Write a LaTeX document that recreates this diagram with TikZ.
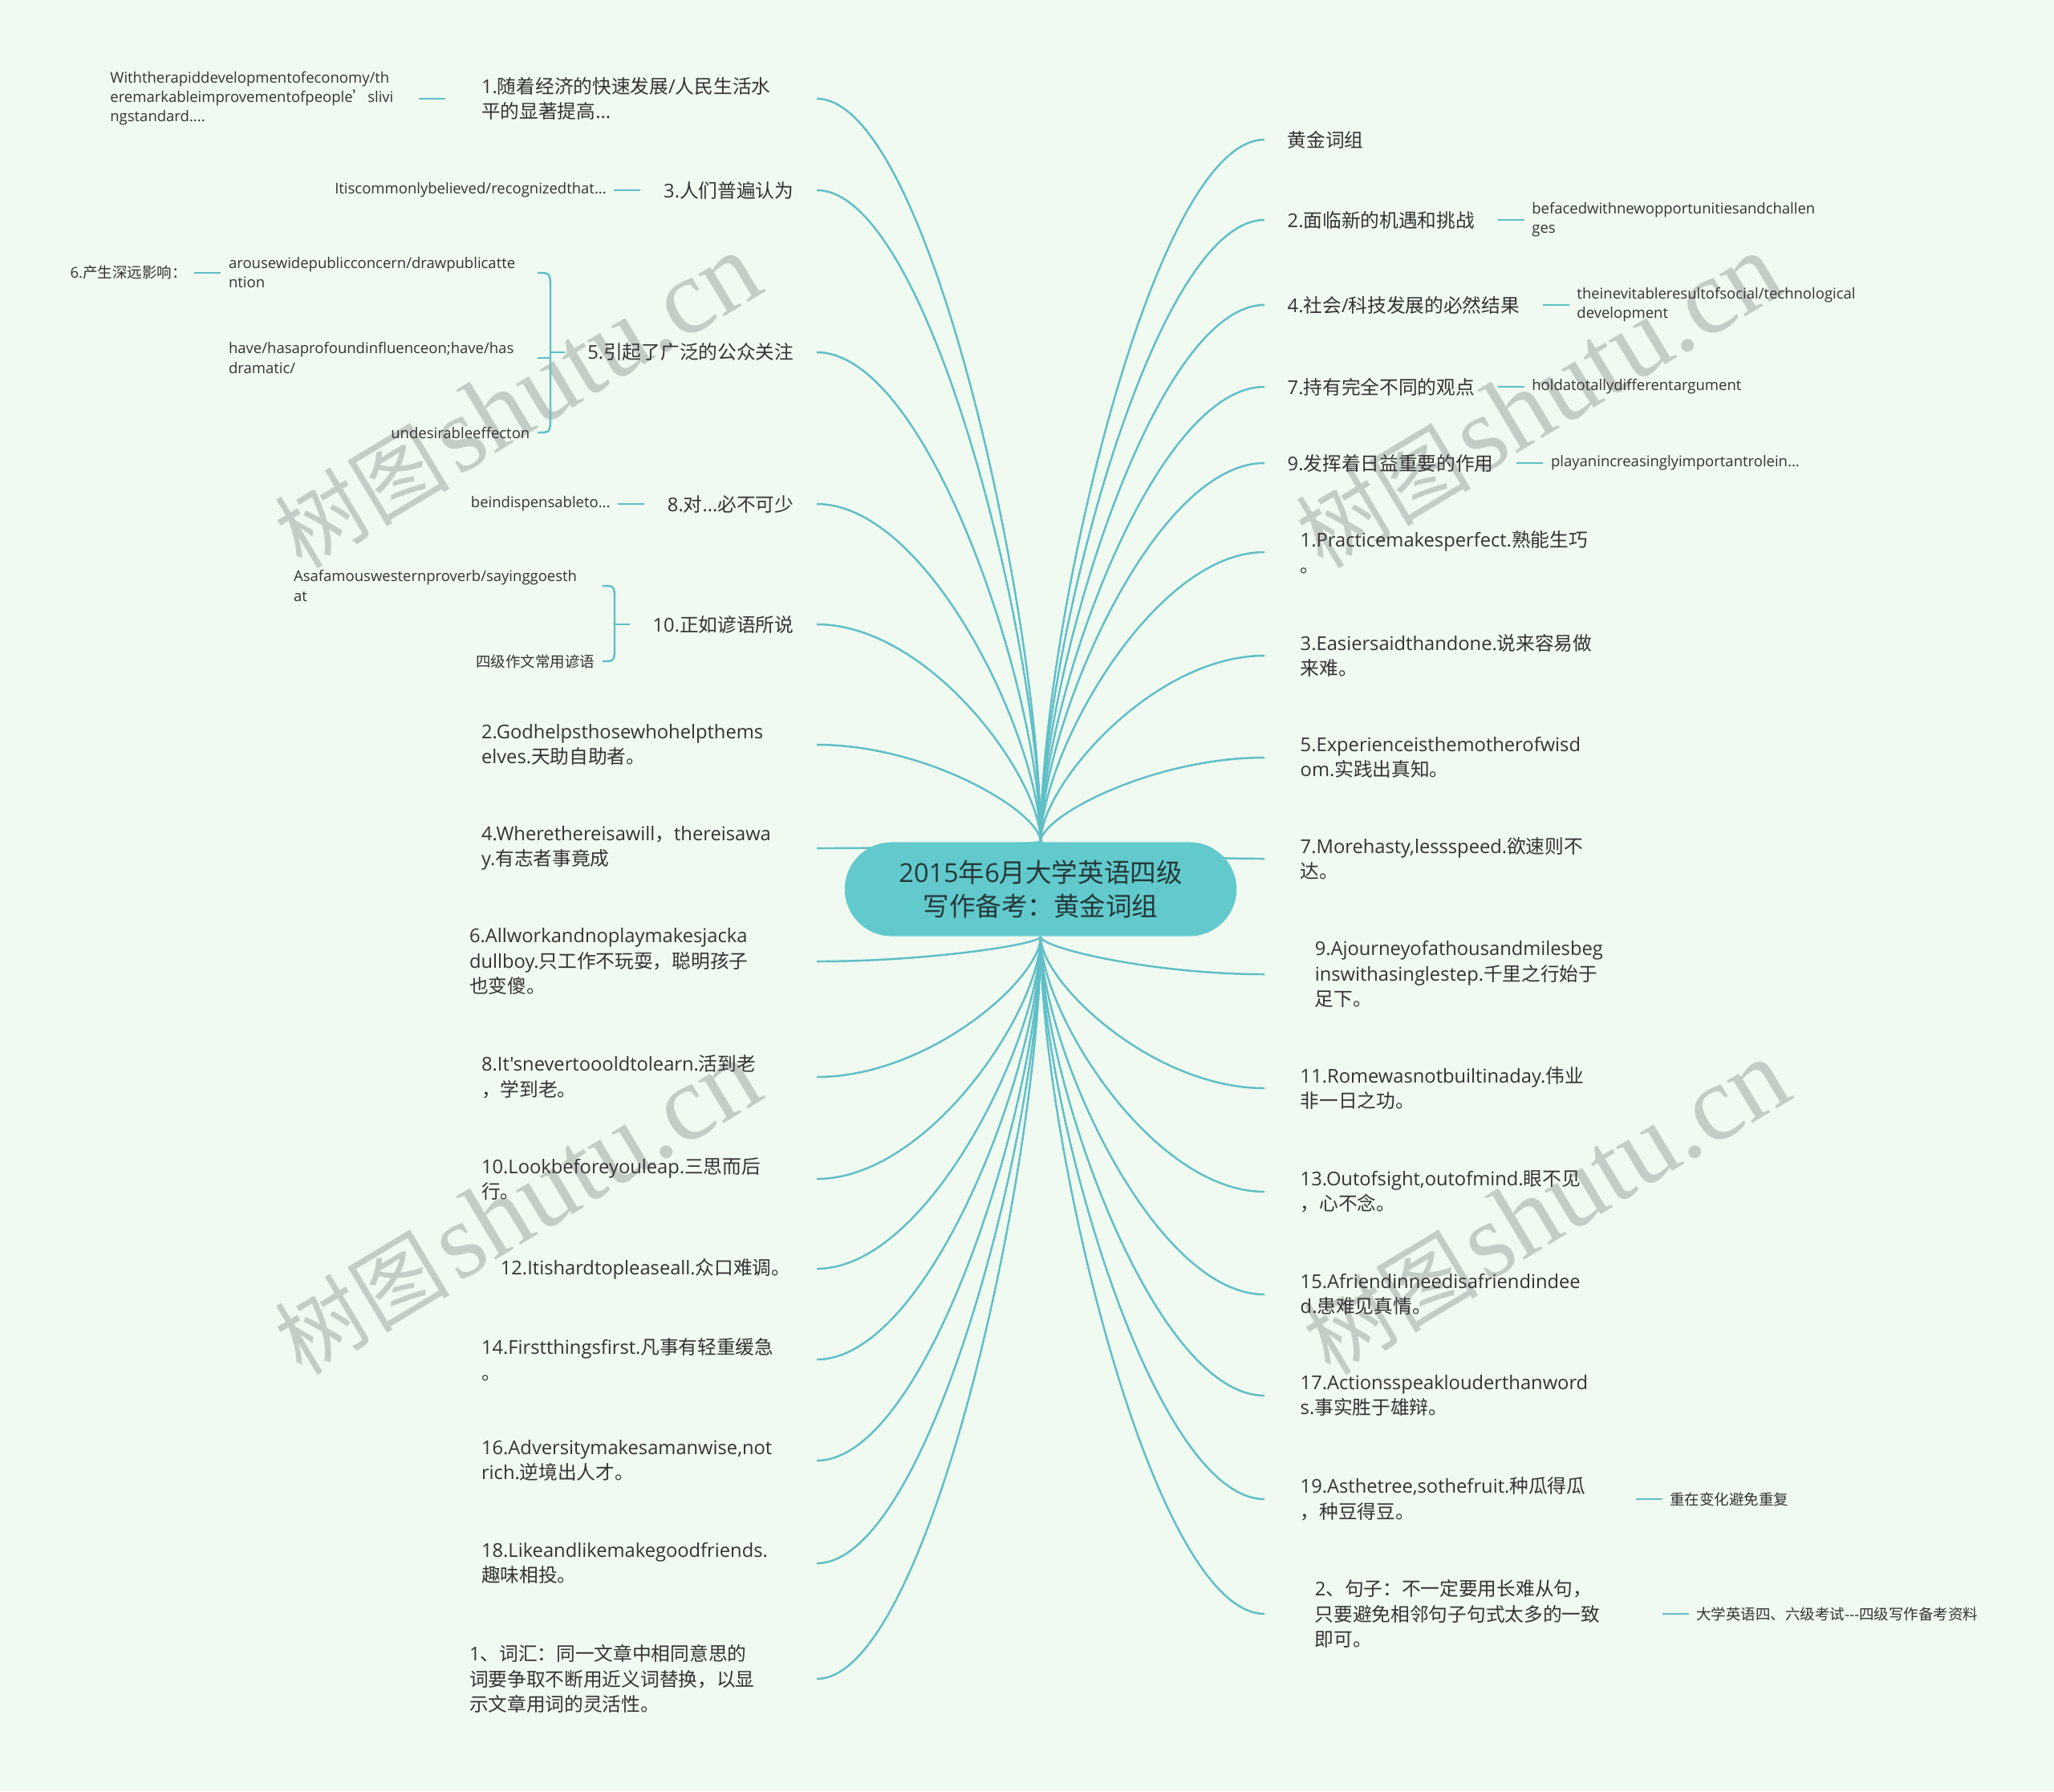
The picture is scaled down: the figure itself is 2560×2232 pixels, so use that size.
\documentclass[tikz,border=0pt]{standalone}
\usepackage{fontspec}
\usepackage{tikz}
\usetikzlibrary{positioning,calc,backgrounds}
\newfontfamily\latfont{Open Sans}
\newfontfamily\cjkfont{Noto Sans CJK SC}
\newfontfamily\wmfont{Liberation Serif}
% CJK characters switch to the CJK family
\XeTeXinterchartokenstate=1
\newXeTeXintercharclass\cjkcls
\newcount\cjkcode
\cjkcode="3000
\loop\XeTeXcharclass\cjkcode=\cjkcls \advance\cjkcode by 1 \ifnum\cjkcode<"3040 \repeat
\cjkcode="4E00
\loop\XeTeXcharclass\cjkcode=\cjkcls \advance\cjkcode by 1 \ifnum\cjkcode<"A000 \repeat
\cjkcode="FF00
\loop\XeTeXcharclass\cjkcode=\cjkcls \advance\cjkcode by 1 \ifnum\cjkcode<"FFF0 \repeat
\XeTeXcharclass"2019=\cjkcls
\XeTeXinterchartoks 0 \cjkcls = {\begingroup\cjkfont}
\XeTeXinterchartoks 4095 \cjkcls = {\begingroup\cjkfont}
\XeTeXinterchartoks \cjkcls 0 = {\endgroup}
\XeTeXinterchartoks \cjkcls 4095 = {\endgroup}
\definecolor{bgc}{RGB}{240,250,240}
\definecolor{linec}{RGB}{96,190,199}
\definecolor{hubc}{RGB}{98,201,204}
\definecolor{txtc}{RGB}{51,51,51}
\definecolor{hubtxt}{RGB}{36,56,56}
\definecolor{wmc}{RGB}{196,204,198}
\newcommand\leafsize{\latfont\fontsize{6.74pt}{8.96pt}\selectfont}
\newcommand\subsize{\latfont\fontsize{5.26pt}{6.83pt}\selectfont}
\newcommand\hubsize{\latfont\fontsize{9.25pt}{11.95pt}\selectfont}
\newcommand\wmtext{{\cjkfont\fontsize{31pt}{31pt}\selectfont 树图}\hspace{0.25em}{\wmfont\fontsize{38pt}{38pt}\selectfont shutu.cn}}

\begin{document}
\begin{tikzpicture}[x=0.01cm,y=-0.01cm,node distance=0.33cm,
  link/.style={draw=linec,line width=0.7pt},
  branch/.style={to path={.. controls ($(\tikztostart)!0.3!(\tikztostart|-\tikztotarget)$)
    and ($(\tikztotarget)!0.5!(\tikztostart|-\tikztotarget)$) .. (\tikztotarget)}},
  hub/.style={fill=hubc,text=hubtxt,font=\hubsize,align=center,
    rounded corners=0.585cm,minimum width=4.88cm,minimum height=1.17cm},
  leaf/.style={text=txtc,font=\leafsize,align=left,inner ysep=0.05cm},
  lone/.style={leaf,inner xsep=0.28cm},
  ltwo/.style={leaf,inner xsep=0.44cm,text width=3.73cm},
  lthree/.style={leaf,inner xsep=0.62cm,text width=3.70cm},
  sub/.style={text=txtc,font=\subsize,align=left,inner xsep=0.09cm,inner ysep=0.04cm},
  subw/.style={sub,text width=3.75cm},
  wmark/.style={text=wmc,rotate=31,inner sep=0pt}]
  \useasboundingbox (0,0) rectangle (2560,2232);
  \node[hub] (hub) at (1297,1108) {2015年6月大学英语四级\\写作备考：黄金词组};

  \node[ltwo,anchor=east] (l1) at (1018,123) {1.随着经济的快速发展/人民生活水\\平的显著提高...};
  \node[lone,anchor=east] (l2) at (1018,237) {3.人们普遍认为};
  \node[lone,anchor=east] (l3) at (1018,439) {5.引起了广泛的公众关注};
  \node[lone,anchor=east] (l4) at (1018,628) {8.对...必不可少};
  \node[lone,anchor=east] (l5) at (1018,778) {10.正如谚语所说};
  \node[ltwo,anchor=east] (l6) at (1018,928) {2.Godhelpsthosewhohelpthems\\elves.天助自助者。};
  \node[ltwo,anchor=east] (l7) at (1018,1057) {4.Wherethereisawill，thereisawa\\y.有志者事竟成};
  \node[lthree,anchor=east] (l8) at (1018,1198) {6.Allworkandnoplaymakesjacka\\dullboy.只工作不玩耍，聪明孩子\\也变傻。};
  \node[ltwo,anchor=east] (l9) at (1018,1342) {8.It'snevertoooldtolearn.活到老\\，学到老。};
  \node[ltwo,anchor=east] (l10) at (1018,1469) {10.Lookbeforeyouleap.三思而后\\行。};
  \node[lone,anchor=east,inner xsep=0.32cm] (l11) at (1018,1581) {12.Itishardtopleaseall.众口难调。};
  \node[ltwo,anchor=east] (l12) at (1018,1694) {14.Firstthingsfirst.凡事有轻重缓急\\。};
  \node[ltwo,anchor=east] (l13) at (1018,1820) {16.Adversitymakesamanwise,not\\rich.逆境出人才。};
  \node[ltwo,anchor=east] (l14) at (1018,1948) {18.Likeandlikemakegoodfriends.\\趣味相投。};
  \node[lthree,anchor=east] (l15) at (1018,2092) {1、词汇：同一文章中相同意思的\\词要争取不断用近义词替换，以显\\示文章用词的灵活性。};

  \node[lone,anchor=west] (r1) at (1576,174) {黄金词组};
  \node[lone,anchor=west] (r2) at (1576,274) {2.面临新的机遇和挑战};
  \node[lone,anchor=west] (r3) at (1576,380) {4.社会/科技发展的必然结果};
  \node[lone,anchor=west] (r4) at (1576,482) {7.持有完全不同的观点};
  \node[lone,anchor=west] (r5) at (1576,577) {9.发挥着日益重要的作用};
  \node[ltwo,anchor=west] (r6) at (1576,688) {1.Practicemakesperfect.熟能生巧\\。};
  \node[ltwo,anchor=west] (r7) at (1576,817) {3.Easiersaidthandone.说来容易做\\来难。};
  \node[ltwo,anchor=west] (r8) at (1576,944) {5.Experienceisthemotherofwisd\\om.实践出真知。};
  \node[ltwo,anchor=west] (r9) at (1576,1070) {7.Morehasty,lessspeed.欲速则不\\达。};
  \node[lthree,anchor=west] (r10) at (1576,1214) {9.Ajourneyofathousandmilesbeg\\inswithasinglestep.千里之行始于\\足下。};
  \node[ltwo,anchor=west] (r11) at (1576,1356) {11.Romewasnotbuiltinaday.伟业\\非一日之功。};
  \node[ltwo,anchor=west] (r12) at (1576,1485) {13.Outofsight,outofmind.眼不见\\，心不念。};
  \node[ltwo,anchor=west] (r13) at (1576,1613) {15.Afriendinneedisafriendindee\\d.患难见真情。};
  \node[ltwo,anchor=west] (r14) at (1576,1739) {17.Actionsspeaklouderthanword\\s.事实胜于雄辩。};
  \node[ltwo,anchor=west] (r15) at (1576,1868) {19.Asthetree,sothefruit.种瓜得瓜\\，种豆得豆。};
  \node[lthree,anchor=west] (r16) at (1576,2011) {2、句子：不一定要用长难从句，\\只要避免相邻句子句式太多的一致\\即可。};

  \node[subw,left=of l1] (l1a) {Withtherapiddevelopmentofeconomy/th\\eremarkableimprovementofpeople’slivi\\ngstandard....};
  \node[sub,left=of l2] (l2a) {Itiscommonlybelieved/recognizedthat...};
  \node[subw,anchor=east] (l3a) at (670,340) {arousewidepublicconcern/drawpublicatte\\ntion};
  \node[subw,anchor=east] (l3b) at (670,446) {have/hasaprofoundinfluenceon;have/has\\dramatic/};
  \node[sub,anchor=east] (l3c) at (670,539) {undesirableeffecton};
  \node[sub,left=of l3a] (l3d) {6.产生深远影响：};
  \node[sub,left=of l4] (l4a) {beindispensableto...};
  \node[subw,anchor=east] (l5a) at (751,730) {Asafamouswesternproverb/sayinggoesth\\at};
  \node[sub,anchor=east] (l5b) at (751,824) {四级作文常用谚语};

  \node[subw,right=of r2] (r2a) {befacedwithnewopportunitiesandchallen\\ges};
  \node[subw,right=of r3] (r3a) {theinevitableresultofsocial/technological\\development};
  \node[sub,right=of r4] (r4a) {holdatotallydifferentargument};
  \node[sub,right=of r5] (r5a) {playanincreasinglyimportantrolein...};
  \node[sub,right=of r15] (r15a) {重在变化避免重复};
  \node[sub,right=of r16] (r16a) {大学英语四、六级考试---四级写作备考资料};

  \draw[link] (l1) -- (l1a);
  \draw[link] (l2) -- (l2a);
  \draw[link] (l4) -- (l4a);
  \draw[link] (l3a) -- (l3d);
  \coordinate (s3) at (686,439);
  \draw[link] (l3.west) -- (s3);
  \draw[link] (l3a.east) .. controls (l3a.east -| s3) .. ($(l3a.east -| s3)+(0,22)$)
    -- ($(l3c.east -| s3)+(0,-22)$) .. controls (l3c.east -| s3) .. (l3c.east);
  \draw[link] (l3b.east) -- (l3b.east -| s3);
  \coordinate (s5) at (766,778);
  \draw[link] (l5.west) -- (s5);
  \draw[link] (l5a.east) .. controls (l5a.east -| s5) .. ($(l5a.east -| s5)+(0,20)$)
    -- ($(l5b.east -| s5)+(0,-20)$) .. controls (l5b.east -| s5) .. (l5b.east);
  \draw[link] (r2) -- (r2a);
  \draw[link] (r3) -- (r3a);
  \draw[link] (r4) -- (r4a);
  \draw[link] (r5) -- (r5a);
  \draw[link] (r15) -- (r15a);
  \draw[link] (r16) -- (r16a);

  \begin{scope}[on background layer]
    \fill[bgc] (0,0) rectangle (2560,2232);
    \foreach \a/\b [count=\i] in {645/500,645/1505,1918/500,1927/1505}
      \node[wmark] (wm\i) at (\a,\b) {\wmtext};
    \foreach \n in {l1,l2,l3,l4,l5,l6,l7}
      \draw[link] (hub.north) to[branch] (\n.east);
    \foreach \n in {l8,l9,l10,l11,l12,l13,l14,l15}
      \draw[link] (hub.south) to[branch] (\n.east);
    \foreach \n in {r1,r2,r3,r4,r5,r6,r7,r8,r9}
      \draw[link] (hub.north) to[branch] (\n.west);
    \foreach \n in {r10,r11,r12,r13,r14,r15,r16}
      \draw[link] (hub.south) to[branch] (\n.west);
  \end{scope}
\end{tikzpicture}
\end{document}
